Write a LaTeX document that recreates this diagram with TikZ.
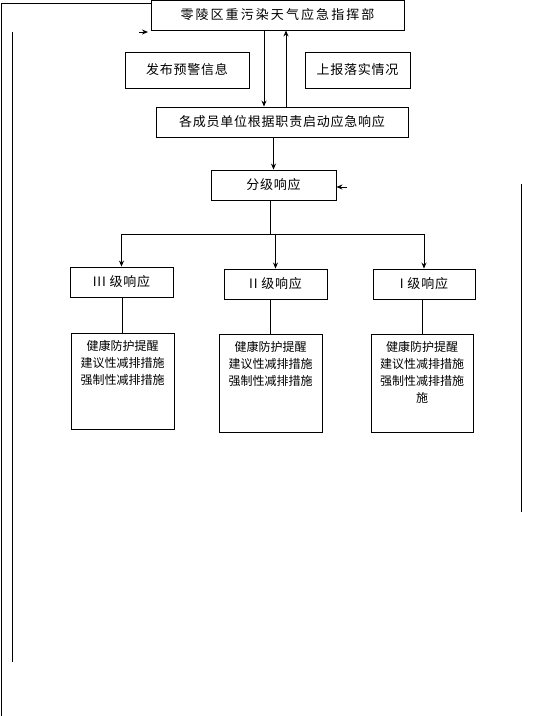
\documentclass[tikz,border=0pt]{standalone}
\usepackage{fontspec}
\usetikzlibrary{arrows.meta}
\newfontfamily\cjk{Noto Sans CJK SC}
\newfontfamily\cjkwide[LetterSpace=6]{Noto Sans CJK SC}
\newfontfamily\cjktitle[LetterSpace=16]{Noto Sans CJK SC}

\begin{document}
\begin{tikzpicture}[x=1pt, y=-1pt, line width=0.9pt,
  >={Stealth[length=6pt,width=5pt]},
  every node/.style = {shape=rectangle, draw, align=center, inner sep=0pt,
    font=\cjk\fontsize{12}{17}\selectfont},
  cell/.style 2 args = {minimum width=#1, minimum height=#2},
  title/.style = {font=\cjktitle\fontsize{13}{17}\selectfont},
  wide/.style = {font=\cjkwide\fontsize{13}{17}\selectfont}]
  \useasboundingbox (0,0) rectangle (542,716);
  \node[cell={253}{30}, title] (top) at (277.5,15) {零陵区重污染天气应急指挥部};
  \node[cell={124}{36}, wide] (warn) at (187,70) {发布预警信息};
  \node[cell={105}{36}, wide] (report) at (357.5,70) {上报落实情况};
  \node[cell={252}{30}, wide] (units) at (282,122) {各成员单位根据职责启动应急响应};
  \node[cell={125}{30}, wide] (grade) at (273.5,185) {分级响应};
  \node[cell={103}{30}, wide] (l3) at (121.5,282) {III 级响应};
  \node[cell={103}{30}, wide] (l2) at (275.5,284) {II 级响应};
  \node[cell={102}{30}, wide] (l1) at (424,284) {I 级响应};
  \node (d3) at (122.5,381) {\parbox[c][96pt][t]{103pt}{\centering\vspace{7pt}
    健康防护提醒\\建议性减排措施\\强制性减排措施}};
  \node (d2) at (270.5,383) {\parbox[c][98pt][t]{103pt}{\centering\vspace{7pt}
    健康防护提醒\\建议性减排措施\\强制性减排措施}};
  \node (d1) at (422,383) {\parbox[c][98pt][t]{102pt}{\centering\vspace{7pt}
    健康防护提醒\\建议性减排措施\\强制性减排措施\\施}};
  \coordinate (lt) at (1,3.5);
  \coordinate (lb) at (1,716);
  \coordinate (ia) at (12,32);
  \coordinate (ib) at (12,662);
  \coordinate (fa) at (139,32);
  \coordinate (ra) at (347,187);
  \coordinate (rt) at (521,184);
  \coordinate (rb) at (521,512);
  \coordinate (br) at (270,234);
  \draw (top.west |- lt) -- (lt) -- (lb);
  \draw (ia) -- (ib);
  \draw[->] (fa) -- ++(9,0);
  \draw (rt) -- (rb);
  \draw[->] ([xshift=-13.5]top.south) -- ([xshift=-18]units.north);
  \draw[->] ([xshift=4]units.north) -- ([xshift=8.5]top.south);
  \draw[->] (grade.north |- units.south) -- (grade.north);
  \draw[->] (ra) -- (grade.east |- ra);
  \draw (grade.south -| br) -- (br);
  \draw (l3.north |- br) -- (l1.north |- br);
  \foreach \n in {3,2,1} {
    \draw[->] (l\n.north |- br) -- (l\n.north);
    \draw (l\n.south -| d\n.north) -- (d\n.north);
  }
\end{tikzpicture}
\end{document}
